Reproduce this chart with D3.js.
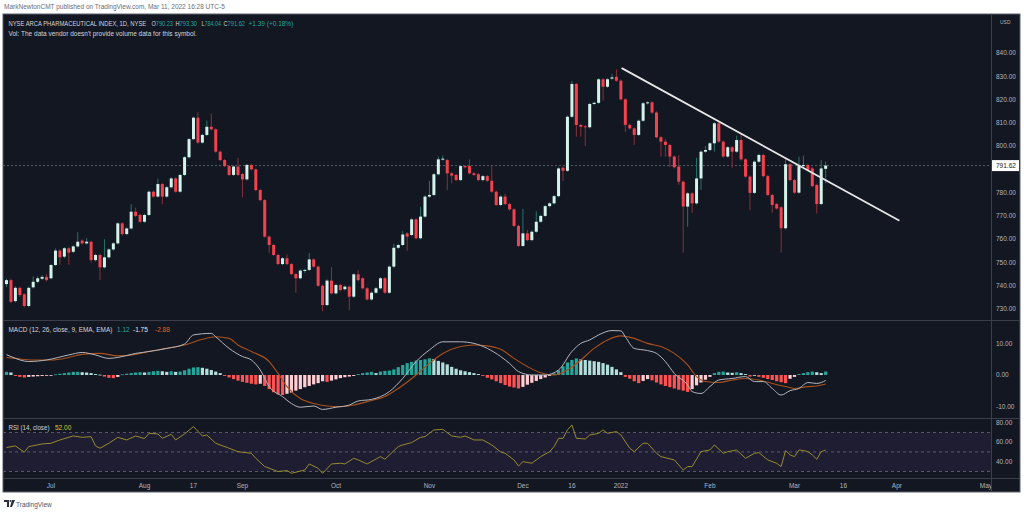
<!DOCTYPE html>
<html>
<head>
<meta charset="utf-8">
<script src="https://cdn.jsdelivr.net/npm/d3@7"></script>
<style>
  body { margin: 0; background: #fff; }
  svg text { font-family: "Liberation Sans", Arial, sans-serif; }
</style>
</head>
<body>
<div id="chart"></div>
<script>
// daily candles, NYSE Arca Pharmaceutical index (mid Jun 2021 .. Mar 11 2022)
const opens = [740.7,742.4,733.4,739.1,736.3,731.3,739.3,741.7,743.0,743.8,743.2,748.9,755.1,752.5,756.1,754.6,756.9,759.4,758.2,758.9,
  751.0,753.2,747.9,752.2,755.6,758.2,766.8,762.2,764.6,771.8,770.4,767.5,770.4,780.4,778.3,783.7,778.3,782.3,786.1,780.4,
  787.6,795.2,803.0,812.2,801.5,804.8,808.3,807.2,797.6,794.0,791.4,787.6,791.2,788.0,785.7,791.9,790.0,781.1,776.8,761.1,
  757.5,753.2,749.3,751.8,749.3,745.0,743.2,746.5,746.8,751.3,748.2,740.0,731.7,742.2,736.7,740.3,738.5,739.6,735.3,744.9,
  743.2,738.9,734.1,737.0,738.9,743.2,737.0,748.2,756.3,757.5,762.5,761.8,768.5,760.4,769.7,778.3,779.0,787.9,794.3,794.0,
  788.3,787.6,785.4,791.4,791.4,788.3,787.9,785.4,787.1,785.1,780.4,774.7,778.3,775.1,772.8,765.7,757.1,762.5,759.6,763.2,
  767.5,770.0,774.2,775.4,778.5,790.7,789.4,812.6,826.7,809.1,808.5,808.1,818.1,818.6,828.7,825.5,829.0,829.8,828.1,820.1,
  809.1,807.6,804.8,810.9,818.4,818.8,814.4,803.8,801.9,800.5,795.5,791.2,784.7,774.0,779.7,775.4,786.1,797.6,798.3,801.2,
  809.8,801.9,795.5,799.5,797.6,802.6,794.3,786.9,779.9,793.3,796.2,787.1,779.0,775.1,773.7,764.7,792.2,785.4,780.0,791.4,
  791.9,790.4,783.3,775.1,790.23];
const highs = [743.0,743.0,739.8,739.6,736.8,739.6,744.0,744.0,744.5,745.0,749.3,756.0,755.6,756.6,756.6,757.4,763.0,759.9,760.5,759.4,
  753.7,753.7,760.0,756.1,758.7,767.3,767.3,765.1,775.0,773.5,770.9,770.9,780.9,780.9,786.0,784.2,782.8,786.6,786.6,788.1,
  795.7,803.5,812.7,814.5,805.3,811.0,814.0,807.7,798.1,794.5,791.9,791.7,795.0,788.5,792.4,792.4,790.5,781.6,777.3,761.6,
  758.0,753.7,752.3,753.5,749.8,745.5,747.0,747.3,754.0,751.8,748.7,740.5,742.7,748.0,740.8,740.8,740.1,740.1,745.4,746.7,
  743.7,739.4,737.5,739.4,743.7,743.7,748.7,758.0,758.0,763.6,763.0,769.0,769.0,774.0,778.8,785.0,788.4,795.5,796.0,794.5,
  788.8,788.1,791.9,791.9,794.3,788.8,788.4,787.6,787.6,791.4,780.9,778.8,779.5,775.6,773.3,766.2,773.0,764.0,763.7,772.0,
  770.5,774.7,775.9,779.0,790.9,791.2,813.1,828.0,827.2,809.6,809.0,818.6,819.1,829.2,829.2,829.2,831.0,833.0,828.6,820.6,
  809.6,808.1,811.4,818.9,819.3,819.3,814.9,804.3,803.0,801.0,796.0,796.0,785.2,780.2,780.2,795.0,798.1,800.0,801.7,810.3,
  810.7,802.4,800.0,800.0,804.5,805.4,794.8,787.4,793.8,796.7,796.7,787.6,779.5,775.6,774.2,795.0,792.7,785.9,795.5,795.9,
  792.4,790.9,783.8,794.0,793.30];
const lows = [739.5,732.5,732.8,735.2,730.7,730.8,738.8,741.0,742.5,741.8,742.8,748.5,749.0,751.8,749.0,754.0,756.4,757.7,757.7,750.0,
  750.5,742.5,747.4,751.7,755.1,757.7,761.5,761.7,764.1,769.5,767.0,767.0,769.9,777.8,777.8,775.0,777.8,781.8,779.9,779.9,
  787.1,794.7,802.5,801.0,801.0,804.3,806.7,797.1,793.5,790.9,787.1,787.1,787.1,778.0,785.2,789.5,780.6,776.3,760.6,754.0,
  752.7,748.8,748.8,748.8,744.5,737.0,742.7,745.5,746.3,747.7,739.5,729.0,731.2,736.2,736.2,737.6,738.0,729.5,734.8,741.9,
  738.4,733.6,733.6,736.5,738.4,736.5,736.5,747.7,755.8,757.0,755.0,761.3,759.9,759.9,769.2,777.8,778.5,787.4,793.8,781.0,
  784.0,784.9,784.9,790.4,787.8,787.1,784.9,784.9,784.6,779.9,774.2,774.2,774.6,772.3,765.2,756.6,756.6,759.1,759.1,762.7,
  767.0,769.5,773.7,774.9,778.0,785.0,788.9,812.1,804.0,804.0,800.0,807.6,817.6,818.1,819.5,825.0,828.5,827.6,819.6,806.0,
  807.1,800.5,804.3,810.4,817.9,813.9,803.3,795.5,795.5,791.0,790.4,783.4,754.2,765.4,771.3,774.9,781.2,797.1,797.8,797.6,
  801.4,795.0,795.0,790.7,797.1,793.8,786.4,772.4,779.4,792.8,786.6,778.5,771.3,772.7,754.3,764.2,784.9,779.5,779.5,790.9,
  789.2,782.3,771.0,774.6,784.04];
const closes = [742.4,733.1,739.1,736.0,731.3,739.1,741.7,743.2,743.8,742.4,748.9,755.1,752.2,756.1,754.2,756.9,758.9,758.2,758.9,751.0,
  753.2,747.9,752.2,755.6,758.2,766.8,762.2,764.6,771.8,770.0,767.5,770.4,780.4,778.3,783.7,778.3,782.3,786.1,780.4,787.6,
  795.2,803.0,812.2,801.5,804.8,808.3,807.2,797.6,794.0,791.4,787.6,791.2,787.6,785.7,791.9,790.0,781.1,776.8,761.1,757.5,
  753.2,749.3,751.8,749.3,745.0,743.2,746.5,746.8,751.3,748.2,740.0,731.7,742.2,736.7,740.3,738.1,739.6,735.3,744.9,742.4,
  738.9,734.1,737.0,738.9,743.2,737.0,748.2,756.3,757.5,762.0,761.1,768.5,760.4,769.7,778.3,779.0,787.9,794.3,794.6,788.3,
  787.3,785.4,791.4,790.9,788.3,787.6,785.4,787.1,785.1,780.4,774.7,778.3,775.1,772.8,765.7,757.1,762.5,759.6,763.2,767.5,
  770.0,774.2,775.4,778.5,790.4,789.4,812.6,826.7,809.1,808.3,808.1,818.1,818.6,828.7,825.5,828.7,829.5,828.1,820.1,809.1,
  807.6,804.8,810.9,818.4,818.8,814.4,803.8,801.9,800.5,795.5,790.9,784.7,774.0,779.7,775.4,786.1,797.6,798.3,801.2,809.8,
  801.9,795.5,799.5,797.6,802.6,794.3,786.9,779.9,793.3,796.2,787.1,779.0,774.7,773.2,764.7,792.2,785.4,780.0,791.4,791.9,
  789.7,782.8,775.1,790.4,791.62];

// MACD (12, 26, 9): line and signal read at these bars, histogram per bar
const macdAt   = [0,1,5,9,14,17,20,23,25,29,32,36,40,42,46,47,50,53,55,57,59,62,64,66,69,71,74,77,79,82,86,89,92,95,98,102,105,108,111,
  113,115,118,121,124,127,129,131,133,136,138,139,141,144,146,148,150,153,154,156,158,160,163,166,168,170,172,174,176,178,180,182,184];
const macdLine = [6.5,5.9,4.3,4.8,6.4,7.2,6.4,5.3,5.6,6.9,7.5,8.5,9.9,12.8,13.3,12.2,8.5,5.9,4.8,1.6,-3.7,-6.9,-9.1,-10.3,-9.9,-11,-10.3,-9.6,-8.3,-7.8,-5.3,-1.1,4.3,8,10.6,10.6,10.1,8.5,5.9,
  3.7,1.1,0,0,1.6,7.5,10.1,11.2,12.8,14.2,14.1,12.2,8.5,7.8,6.9,4.3,0.5,-3.2,-5.3,-5.9,-3.7,-1.6,-1.1,-0.5,-2.1,-2.1,-4.3,-6.4,-5,-4.3,-2.4,-2.7,-1.75];
const signalAt   = [0,2,6,10,14,17,21,25,29,32,36,40,44,47,50,52,55,59,61,63,66,69,72,75,78,81,85,88,92,95,98,102,105,108,111,
  114,117,120,123,126,129,132,135,138,141,144,147,150,153,155,157,160,163,166,169,172,175,177,180,182,184];
const signalLine = [5.6,5.3,4.8,4.8,5.6,6.6,6.9,6.1,6.6,7.5,8.5,9.6,11.4,12.2,11.7,9.6,7.5,4.3,0.5,-3.7,-7.5,-9.1,-9.9,-10.1,-9.6,-8.5,-6.9,-4.3,0,3.7,6.9,9.1,9.6,9.3,8.2,
  5.3,2.7,0.7,0,1.6,4.8,8.5,11.2,12.5,11.7,10.1,9.1,6.9,3.2,-0.5,-2.1,-2.4,-1.6,-1.1,-1.6,-2.7,-3.7,-4.3,-3.7,-3.5,-2.88];
const histogram = [1.0,0.8,-0.3,-0.6,-0.8,-0.6,-0.5,-0.4,-0.3,-0.2,-0.1,0.2,0.4,0.6,0.8,1.0,1.0,0.9,0.8,0.6,
  0.3,0.1,-0.5,-0.9,-1.0,-0.6,0.2,0.4,0.6,0.8,0.9,0.8,1.0,1.2,1.3,1.2,1.0,1.2,1.0,1.1,
  1.5,2.0,2.4,2.5,2.3,2.0,1.6,1.1,0.6,-0.3,-0.8,-1.3,-1.8,-2.2,-2.5,-2.8,-3.0,-2.8,-3.5,-4.5,
  -5.5,-6.2,-6.4,-6.0,-5.6,-5.0,-4.5,-3.9,-3.5,-3.0,-2.6,-2.0,-2.2,-1.8,-1.4,-1.0,-0.7,-0.5,-0.3,0.3,
  0.6,0.8,1.0,0.6,1.1,1.3,1.4,1.8,2.5,3.2,3.8,4.2,4.6,4.8,5.0,5.3,5.1,4.5,4.0,3.4,
  2.6,2.0,1.5,1.2,0.9,0.6,0.3,-0.3,-0.9,-1.4,-2.0,-2.6,-3.2,-3.7,-4.0,-4.3,-3.8,-3.1,-2.5,-1.9,
  -1.3,-0.8,-0.3,0.5,1.5,2.8,4.0,4.8,5.3,5.0,4.8,4.6,4.4,4.2,3.8,3.3,2.6,1.8,0.9,-0.6,
  -1.2,-2.0,-2.6,-1.9,-1.3,-1.7,-2.4,-3.0,-3.5,-3.9,-4.3,-4.7,-5.0,-5.4,-4.5,-3.3,-2.4,-1.5,-0.6,0.6,
  1.0,1.1,0.8,0.7,0.9,0.6,0.3,-0.5,-0.2,-0.6,-0.9,-1.3,-1.6,-2.0,-2.3,-2.6,-1.2,-0.6,0.3,0.6,
  0.9,1.1,0.9,0.6,1.12];

// RSI (14) read at these bars
const rsiAt   = [0,2,4,5,8,10,12,15,17,19,20,21,23,25,27,29,31,32,34,35,37,38,40,42,44,45,47,50,52,55,56,58,61,63,64,67,68,70,71,73,75,76,78,79,81,84,85,88,89,91,93,94,96,98,
  100,102,103,105,107,109,111,112,114,115,116,118,120,122,123,124,125,126,127,128,130,131,133,134,135,137,138,140,141,143,144,146,147,150,152,153,154,156,158,159,
  161,162,164,166,168,169,171,173,174,175,176,177,178,179,180,181,182,183,184];
const rsiLine = [54.5,56.2,49.7,55.5,58.2,58.9,62.3,66.4,65,65.7,56.2,53.8,58.9,65,62.3,66.4,63.7,69.1,68.5,64,68.1,62.3,68.5,76,66.4,67.4,58.9,53.8,50.3,48.6,43.5,35,29.9,30.9,28.1,31.5,37.7,33.2,28.1,37.7,38.4,37.7,43.5,41.8,37.7,45.2,42.5,55.5,57.2,59.6,65,65.7,72.6,73.2,
  66.4,65,66.4,62.3,62.3,57.2,50,48.6,41.8,35.6,40.1,38.4,45.2,50.3,55.5,64,64,72.6,77.7,64,63.3,67.4,69.1,72.6,69.1,70.9,67.4,53.8,50.3,58.9,58.9,48.6,45.2,41.8,31.5,35,35,50.3,52,57.2,
  48.6,50.3,52,43.5,48.6,49.3,41.8,38.4,35,51.4,47,45.2,52,51.5,50.3,47,42.5,50.3,52];

// axis labels
const timeLabels = ["Jul","Aug","17","Sep","Oct","Nov","Dec","16","2022","Feb","Mar","16","Apr","May"];
const timeLabelBars = [10,31,42,53,74,95,116,127,138,158,177,188,200,220];
const priceTicks = [730,740,750,760,770,780,800,810,820,830,840];
const macdTicks = [-10,0,10];
const rsiTicks = [40,60,80];
const rsiBands = [30,50,70];
const lastPrice = 791.62;
const ohlcKeys = ["O","H","L","C"];
const ohlcVals = ["790.23","793.30","784.04","791.62"];

// hand-drawn trendline anchors (bar, price)
const trendBars = [138.3,200.4];
const trendPrices = [833.4,768.1];

const W = 1024, H = 514;
const padL = 3, axisX = 991, padR = 1020, chartTop = 14, chartBottom = 492;
const mainBottom = 320, macdBottom = 418, rsiBottom = 478;

const svg = d3.select("#chart").append("svg")
  .attr("width", W).attr("height", H);

// squeeze a text horizontally to the width it has in the screenshot
function fit(t, w) {
  const n = t.node().getComputedTextLength();
  const x0 = +t.attr("x"), y0 = +t.attr("y");
  t.attr("x", 0).attr("y", 0)
    .attr("transform", `translate(${x0},${y0}) scale(${Math.min(1, w / n)},1)`);
  return t;
}

// frame
svg.append("rect").attr("x", padL).attr("y", chartTop).attr("width", padR - padL).attr("height", chartBottom - chartTop)
  .attr("fill", "#131722").attr("stroke", "#5d606b").attr("stroke-width", 1);

const x = d3.scaleLinear().domain([0, 220]).range([6.5, 6.5 + 220 * 4.452]);
const yP = d3.scaleLinear().domain([730, 840]).range([309, 53]);
const yM = d3.scaleLinear().domain([-10, 10]).range([406.3, 343.7]);
const yR = d3.scaleLinear().domain([40, 80]).range([461.7, 422.7]);

const defs = svg.append("defs");
[["clipMain", chartTop, mainBottom], ["clipMacd", mainBottom, macdBottom], ["clipRsi", macdBottom, rsiBottom], ["clipTime", rsiBottom, chartBottom]]
  .forEach(([id, y0, y1]) => {
    defs.append("clipPath").attr("id", id).append("rect")
      .attr("x", padL + 0.5).attr("y", y0).attr("width", axisX - padL - 0.5).attr("height", y1 - y0);
  });

// pane separators
svg.selectAll("line.sep")
  .data([mainBottom, macdBottom, rsiBottom])
  .enter().append("line")
    .attr("x1", padL).attr("x2", padR)
    .attr("y1", d => d + 0.5).attr("y2", d => d + 0.5)
    .attr("stroke", "#3a3e4a");
svg.append("line").attr("x1", axisX + 0.5).attr("x2", axisX + 0.5).attr("y1", chartTop).attr("y2", chartBottom)
  .attr("stroke", "#3a3e4a");

// ---- main pane ----
const main = svg.append("g").attr("clip-path", "url(#clipMain)");

// last price dashed line
main.append("line")
  .attr("x1", padL).attr("x2", axisX)
  .attr("y1", yP(lastPrice)).attr("y2", yP(lastPrice))
  .attr("stroke", "#6a6d78").attr("stroke-dasharray", "2,2").attr("stroke-width", 0.8);

const bars = d3.range(closes.length);
const up = i => closes[i] >= opens[i];

main.selectAll("line.wick")
  .data(bars)
  .enter().append("line")
    .attr("x1", i => x(i)).attr("x2", i => x(i))
    .attr("y1", i => yP(highs[i])).attr("y2", i => yP(lows[i]))
    .attr("stroke", i => up(i) ? "#277368" : "#86303a")
    .attr("stroke-width", 1);

main.selectAll("rect.body")
  .data(bars)
  .enter().append("rect")
    .attr("x", i => x(i) - 1.5)
    .attr("width", 3)
    .attr("y", i => yP(Math.max(opens[i], closes[i])))
    .attr("height", i => Math.max(1, Math.abs(yP(opens[i]) - yP(closes[i]))))
    .attr("fill", i => up(i) ? "#d3f3ec" : "#f0434f");

// trendline
main.append("line")
  .attr("x1", x(trendBars[0])).attr("y1", yP(trendPrices[0]))
  .attr("x2", x(trendBars[1])).attr("y2", yP(trendPrices[1]))
  .attr("stroke", "#e6e6e6").attr("stroke-width", 1.8).attr("stroke-linecap", "round");

// price axis
svg.selectAll("text.ptick")
  .data(priceTicks)
  .enter().append("text")
    .attr("x", 996).attr("y", d => yP(d)).attr("dy", "0.35em")
    .attr("font-size", 6.5).attr("fill", "#b2b5be")
    .text(d => d.toFixed(2));
svg.append("text").attr("x", 1000).attr("y", 23.5)
  .attr("font-size", 5).attr("fill", "#b2b5be").text("USD");
svg.append("rect").attr("x", 992).attr("y", yP(lastPrice) - 5.5).attr("width", 27).attr("height", 11)
  .attr("fill", "#ffffff");
svg.append("text").attr("x", 996).attr("y", yP(lastPrice)).attr("dy", "0.35em")
  .attr("font-size", 6.5).attr("fill", "#131722").text(lastPrice.toFixed(2));

// legend
fit(svg.append("text").attr("x", 8.5).attr("y", 25.5).attr("font-size", 6.5).attr("fill", "#d1d4dc")
  .text("NYSE ARCA PHARMACEUTICAL INDEX, 1D, NYSE"), 138);
const ohlcX = [151.5, 175.5, 201.5, 223.5];
ohlcKeys.forEach((k, i) => {
  const t = svg.append("text").attr("x", ohlcX[i]).attr("y", 25.5).attr("font-size", 6.5);
  t.append("tspan").attr("fill", "#d1d4dc").text(k);
  t.append("tspan").attr("fill", "#26a69a").text(ohlcVals[i]);
  fit(t, k === "L" ? 19.5 : 21.5);
});
fit(svg.append("text").attr("x", 248.5).attr("y", 25.5).attr("font-size", 6.5).attr("fill", "#26a69a")
  .text("+1.39 (+0.18%)"), 60);
fit(svg.append("text").attr("x", 8.5).attr("y", 35.5).attr("font-size", 6.5).attr("fill", "#d1d4dc")
  .text("Vol: The data vendor doesn't provide volume data for this symbol."), 198);

// ---- MACD pane ----
const macd = svg.append("g").attr("clip-path", "url(#clipMacd)");
macd.selectAll("rect.hist")
  .data(histogram)
  .enter().append("rect")
    .attr("x", (d, i) => x(i) - 1.6)
    .attr("width", 3.2)
    .attr("y", d => yM(Math.max(0, d)))
    .attr("height", d => Math.max(0.8, Math.abs(yM(d) - yM(0))))
    .attr("fill", (d, i) => {
      const prev = i > 0 ? histogram[i - 1] : d;
      if (d >= 0) return d >= prev ? "#26a69a" : "#b2dfdb";
      return d <= prev ? "#ff5252" : "#ffcdd2";
    });

const macdPath = d3.line().x(d => x(d[0])).y(d => yM(d[1])).curve(d3.curveMonotoneX);
macd.append("path")
  .attr("d", macdPath(signalAt.map((b, i) => [b, signalLine[i]])))
  .attr("fill", "none").attr("stroke", "#a9511c").attr("stroke-width", 1.1);
macd.append("path")
  .attr("d", macdPath(macdAt.map((b, i) => [b, macdLine[i]])))
  .attr("fill", "none").attr("stroke", "#b4b6bd").attr("stroke-width", 1);

svg.selectAll("text.mtick")
  .data(macdTicks)
  .enter().append("text")
    .attr("x", 996).attr("y", d => yM(d)).attr("dy", "0.35em")
    .attr("font-size", 6.5).attr("fill", "#b2b5be")
    .text(d => d.toFixed(2));

fit(svg.append("text").attr("x", 8.5).attr("y", 331.5).attr("font-size", 6.5).attr("fill", "#d1d4dc")
  .text("MACD (12, 26, close, 9, EMA, EMA)"), 104);
svg.append("text").attr("x", 117).attr("y", 331.5).attr("font-size", 6.5).attr("fill", "#26a69a").text("1.12");
svg.append("text").attr("x", 133).attr("y", 331.5).attr("font-size", 6.5).attr("fill", "#e8e8e8").text("-1.75");
svg.append("text").attr("x", 155).attr("y", 331.5).attr("font-size", 6.5).attr("fill", "#e0651c").text("-2.88");

// ---- RSI pane ----
const rsi = svg.append("g").attr("clip-path", "url(#clipRsi)");
rsi.append("rect")
  .attr("x", padL).attr("width", axisX - padL)
  .attr("y", yR(70)).attr("height", yR(30) - yR(70))
  .attr("fill", "#1e1d32");
rsi.selectAll("line.band")
  .data(rsiBands)
  .enter().append("line")
    .attr("x1", padL).attr("x2", axisX)
    .attr("y1", d => yR(d)).attr("y2", d => yR(d))
    .attr("stroke", "#6a6d78").attr("stroke-dasharray", "3,3").attr("stroke-width", 0.8);
rsi.append("path")
  .attr("d", d3.line().x(d => x(d[0])).y(d => yR(d[1]))(rsiAt.map((b, i) => [b, rsiLine[i]])))
  .attr("fill", "none").attr("stroke", "#988a30").attr("stroke-width", 1);

svg.selectAll("text.rtick")
  .data(rsiTicks)
  .enter().append("text")
    .attr("x", 996).attr("y", d => yR(d)).attr("dy", "0.35em")
    .attr("font-size", 6.5).attr("fill", "#b2b5be")
    .text(d => d.toFixed(2));

fit(svg.append("text").attr("x", 8.5).attr("y", 429.5).attr("font-size", 6.5).attr("fill", "#d1d4dc")
  .text("RSI (14, close)"), 41);
svg.append("text").attr("x", 55).attr("y", 429.5).attr("font-size", 6.5).attr("fill", "#d8c53c").text("52.00");

// ---- time axis ----
svg.append("g").attr("clip-path", "url(#clipTime)")
  .selectAll("text")
  .data(timeLabels)
  .enter().append("text")
    .attr("x", (d, i) => x(timeLabelBars[i])).attr("y", 486).attr("dy", "0.35em")
    .attr("text-anchor", "middle")
    .attr("font-size", 6.5).attr("fill", "#b2b5be")
    .text(d => d);

// header + footer
fit(svg.append("text").attr("x", 4).attr("y", 8.5).attr("font-size", 6.5).attr("fill", "#6a6d78")
  .text("MarkNewtonCMT published on TradingView.com, Mar 11, 2022 16:28 UTC-5"), 225);

const logo = svg.append("g").attr("transform", "translate(4,500)");
logo.append("path").attr("d", "M0,0 H5 V7 H3 V2 H0 Z").attr("fill", "#2a2e39");
logo.append("circle").attr("cx", 6.5).attr("cy", 1).attr("r", 1).attr("fill", "#2a2e39");
logo.append("path").attr("d", "M8,0 H11 L8,7 H6 Z").attr("fill", "#2a2e39");
svg.append("text").attr("x", 16).attr("y", 506.5).attr("font-size", 6.5).attr("fill", "#50535e")
  .text("TradingView");
</script>
</body>
</html>
